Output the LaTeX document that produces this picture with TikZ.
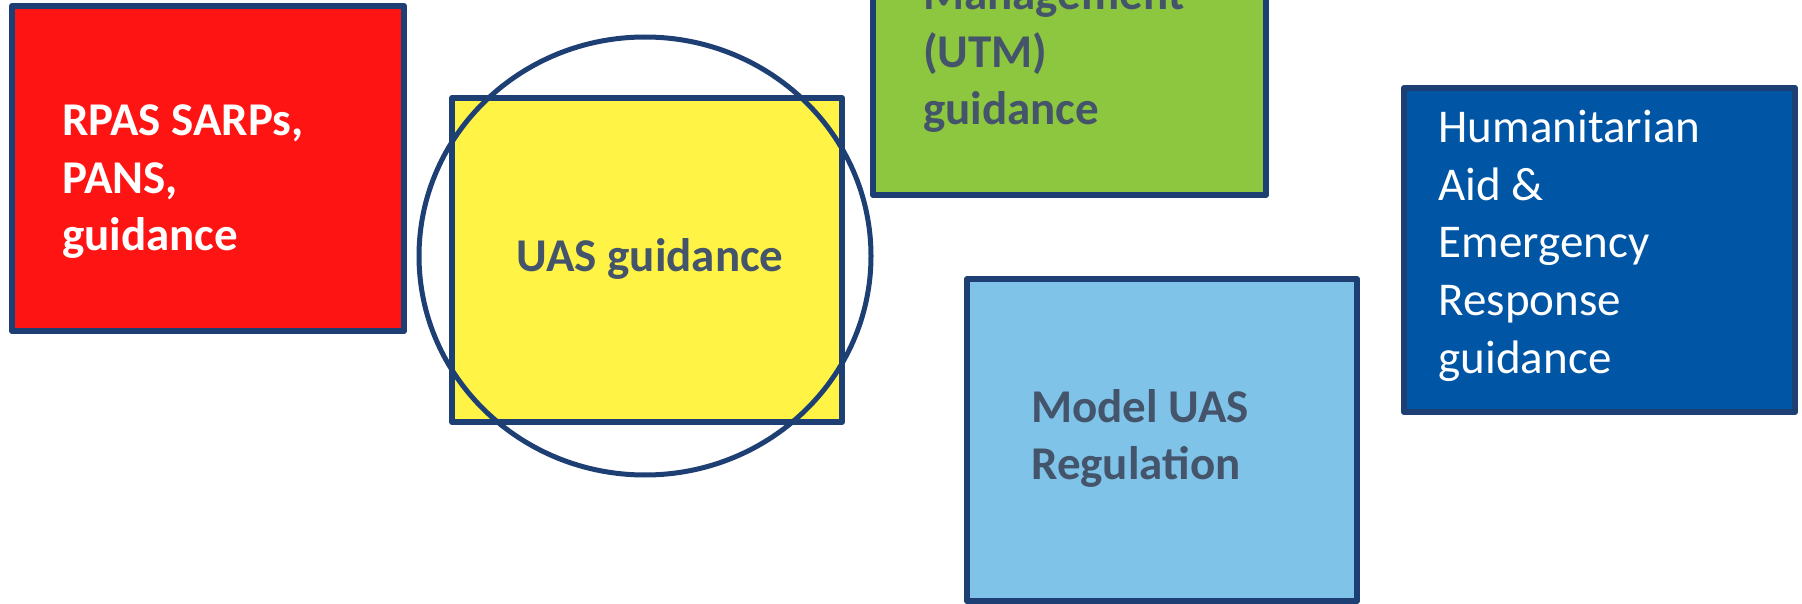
\documentclass[tikz,border=0pt]{standalone}
\usepackage{fontspec}
\setmainfont{Carlito}
\usetikzlibrary{shapes.geometric}
\begin{document}
\begin{tikzpicture}[x=1pt,y=-1pt,
  box/.style={draw=bordercol,line width=6pt,line join=round},
  lbl/.style={anchor=base west,inner sep=0pt,align=left,font=\fontsize{47}{57.6}\selectfont},
  lblb/.style={lbl,font=\fontsize{47}{57.6}\selectfont\bfseries}]
\definecolor{bordercol}{HTML}{1D3F73}
\definecolor{redfill}{HTML}{FF1414}
\definecolor{yellowfill}{HTML}{FFF345}
\definecolor{greenfill}{HTML}{8DC63F}
\definecolor{lbluefill}{HTML}{7FC3E8}
\definecolor{dbluefill}{HTML}{0055A5}
\definecolor{textgray}{HTML}{44546A}
\useasboundingbox (0,0) rectangle (1802,604);
\clip (0,0) rectangle (1802,604);
% boxes
\path[box,fill=redfill] (12,6) rectangle (404,331);
\node[lblb,text=white] (red) at (62,250.8) {RPAS SARPs,\\PANS,\\guidance};
\path[box,fill=yellowfill] (452,98) rectangle (842,422);
\node[lblb,text=textgray] (yellow) at (516.6,271.6) {UAS guidance};
\node[draw=bordercol,line width=5pt,ellipse,minimum width=452pt,minimum height=438pt,inner sep=0pt] (circ) at (645,256) {};
\path[box,fill=greenfill] (873,-150) rectangle (1266,195);
\node[lblb,text=textgray] (green) at (923,125) {Management\\(UTM)\\guidance};
\path[box,fill=lbluefill] (967,279) rectangle (1357,601);
\node[lblb,text=textgray] (lblue) at (1031,479.6) {Model UAS\\Regulation};
\path[box,fill=dbluefill] (1404,88) rectangle (1795,412);
\node[lbl,text=white] (dblue) at (1438.5,373) {Humanitarian\\Aid \&\\Emergency\\Response\\guidance};
\end{tikzpicture}
\end{document}
